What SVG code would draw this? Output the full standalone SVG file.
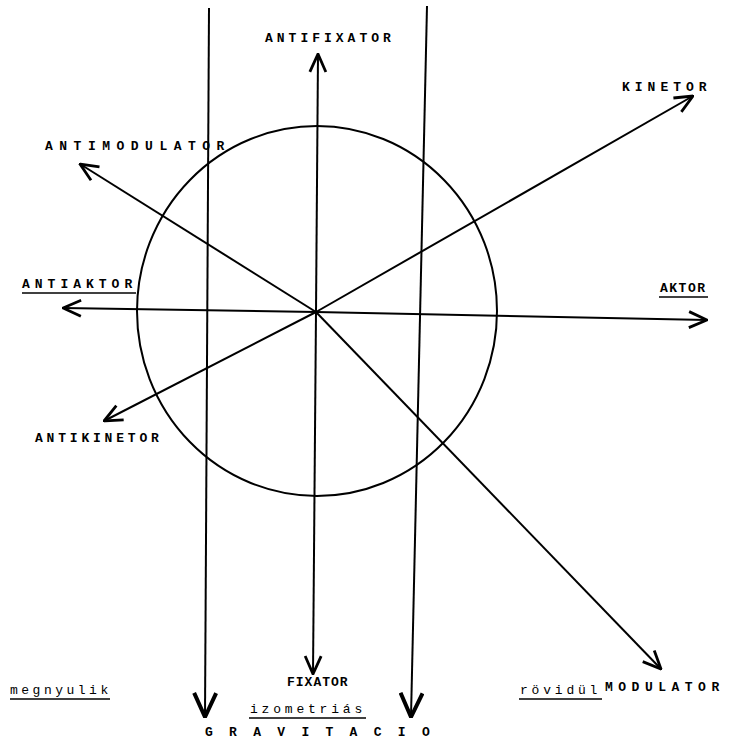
<svg xmlns="http://www.w3.org/2000/svg" width="729" height="743" viewBox="0 0 729 743">
<style>
.t{font-family:"Liberation Mono","DejaVu Sans Mono",monospace;font-weight:bold;font-size:13px;fill:#000;}
.lc{font-weight:normal;font-size:13px;}
.ln{stroke:#000;stroke-width:2;fill:none;}
.ul{stroke:#000;stroke-width:1.5;}
</style>
<defs>
<marker id="ah" viewBox="0 0 20 20" refX="19" refY="10" markerWidth="20" markerHeight="20" markerUnits="userSpaceOnUse" orient="auto">
<path d="M1,2 L19,10 L1,18" fill="none" stroke="#000" stroke-width="2.8"/>
</marker>
<marker id="ahb" viewBox="0 0 26 26" refX="25" refY="13" markerWidth="26" markerHeight="26" markerUnits="userSpaceOnUse" orient="auto">
<path d="M1,2 L25,13 L1,24" fill="none" stroke="#000" stroke-width="4"/>
</marker>
</defs>
<rect width="729" height="743" fill="#fff"/>
<g id="circle"><ellipse cx="317" cy="311" rx="180" ry="185" class="ln"/></g>
<g id="connectors">
<line x1="209" y1="8" x2="205" y2="717" class="ln" marker-end="url(#ahb)"/>
<line x1="427" y1="6" x2="411" y2="717" class="ln" marker-end="url(#ahb)"/>
<line x1="316" y1="312" x2="318" y2="54" class="ln" marker-end="url(#ah)"/>
<line x1="316" y1="312" x2="313" y2="674" class="ln" marker-end="url(#ah)"/>
<line x1="316" y1="312" x2="63" y2="308" class="ln" marker-end="url(#ah)"/>
<line x1="316" y1="312" x2="707" y2="320" class="ln" marker-end="url(#ah)"/>
<line x1="316" y1="312" x2="693" y2="96" class="ln" marker-end="url(#ah)"/>
<line x1="316" y1="312" x2="104" y2="421" class="ln" marker-end="url(#ah)"/>
<line x1="316" y1="312" x2="80" y2="164" class="ln" marker-end="url(#ah)"/>
<line x1="316" y1="312" x2="661" y2="669" class="ln" marker-end="url(#ah)"/>
</g>
<g id="antifixator"><text class="t" x="265" y="42" letter-spacing="4">ANTIFIXATOR</text></g>
<g id="kinetor"><text class="t" x="622" y="91" letter-spacing="5">KINETOR</text></g>
<g id="antimodulator"><text class="t" x="45" y="150" letter-spacing="6.5">ANTIMODULATOR</text></g>
<g id="antiaktor"><text class="t" x="22" y="288" letter-spacing="5">ANTIAKTOR</text><line x1="22" y1="293" x2="136" y2="293" class="ul"/></g>
<g id="aktor"><text class="t" x="660" y="292" letter-spacing="1.5">AKTOR</text><line x1="659" y1="297" x2="708" y2="297" class="ul"/></g>
<g id="antikinetor"><text class="t" x="35" y="442" letter-spacing="3.8">ANTIKINETOR</text></g>
<g id="modulator"><text class="t" x="605" y="691" letter-spacing="5.5">MODULATOR</text></g>
<g id="megnyulik"><text class="t lc" x="10" y="694" letter-spacing="3.5">megnyulik</text><line x1="10" y1="699" x2="110" y2="699" class="ul"/></g>
<g id="rovidul"><text class="t lc" x="520" y="694" letter-spacing="3.8">rövidül</text><line x1="519" y1="699" x2="602" y2="699" class="ul"/></g>
<g id="fixator"><text class="t" x="287" y="686" letter-spacing="1" font-size="12">FIXATOR</text></g>
<g id="izometrias"><text class="t lc" x="250" y="713" letter-spacing="3.8">izometriás</text><line x1="249" y1="718" x2="366" y2="718" class="ul"/></g>
<g id="gravitacio"><text class="t" x="205" y="736" letter-spacing="16.3" font-size="11">GRAVITACIO</text></g>
</svg>
